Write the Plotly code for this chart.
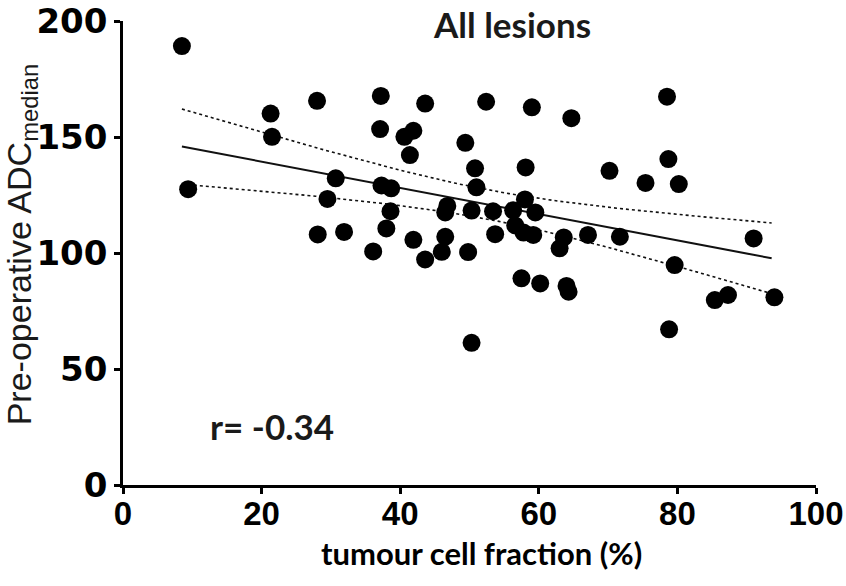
import numpy as np
import plotly.graph_objects as go

# Data
tumour_fraction = [8.5, 9.4, 21.3, 21.5, 28.0, 28.1, 30.7, 29.5, 31.9, 37.2,
                   37.1, 37.3, 38.7, 38.6, 38.0, 36.1, 40.6, 41.9, 41.4, 43.6,
                   41.9, 43.6, 46.0, 46.5, 46.8, 46.5, 49.4, 50.8, 51.0, 50.3,
                   49.8, 50.3, 52.4, 59.0, 64.7, 78.5, 58.1, 70.2, 78.7, 75.4,
                   80.2, 58.0, 53.4, 56.3, 59.5, 56.6, 57.8, 59.2, 53.7, 63.6,
                   63.0, 67.1, 71.7, 91.0, 79.6, 57.5, 60.2, 64.0, 64.3, 78.8,
                   85.4, 87.3, 94.0]
adc_median = [189.2, 127.5, 160.1, 150.1, 165.6, 108.0, 132.2, 123.3, 109.1, 167.7,
              153.4, 129.1, 127.9, 118.0, 110.6, 100.7, 150.1, 152.7, 142.2, 164.4,
              105.7, 97.2, 100.5, 107.0, 120.3, 117.5, 147.5, 136.5, 128.3, 118.3,
              100.4, 61.3, 165.2, 162.8, 158.1, 167.4, 136.9, 135.4, 140.5, 130.2,
              129.7, 123.1, 118.0, 118.4, 117.5, 111.9, 108.8, 107.8, 108.1, 106.7,
              102.0, 107.8, 107.0, 106.3, 94.8, 89.1, 86.9, 85.8, 83.3, 67.1,
              79.7, 81.9, 80.9]
# Fitted line
fit_intercept = 150.7
fit_slope = -0.566
x_ticks = [0, 20, 40, 60, 80, 100]
y_ticks = [0, 50, 100, 150, 200]
title_text = "All lesions"
r_text = "r= -0.34"
x_title = "tumour cell fraction (%)"
y_title = "Pre-operative ADC<sub>median</sub>"

# 95% confidence band of the fitted mean
xa = np.array(tumour_fraction)
ya = np.array(adc_median)
n = len(xa)
resid = ya - (fit_slope * xa + fit_intercept)
s = np.sqrt(np.sum(resid ** 2) / (n - 2))
sxx = np.sum((xa - xa.mean()) ** 2)
t_crit = 2.0
xx = np.linspace(xa.min(), xa.max() - 0.4, 120)
yy = fit_slope * xx + fit_intercept
half = t_crit * s * np.sqrt(1 / n + (xx - xa.mean()) ** 2 / sxx)

fig = go.Figure()
fig.add_trace(go.Scatter(x=xx, y=yy + half, mode="lines",
                         line=dict(color="#111", width=1.6, dash="dot"),
                         hoverinfo="skip"))
fig.add_trace(go.Scatter(x=xx, y=yy - half, mode="lines",
                         line=dict(color="#111", width=1.6, dash="dot"),
                         hoverinfo="skip"))
fig.add_trace(go.Scatter(x=xx, y=yy, mode="lines",
                         line=dict(color="#111", width=2),
                         hoverinfo="skip"))
fig.add_trace(go.Scatter(x=tumour_fraction, y=adc_median, mode="markers",
                         marker=dict(color="black", size=18, line=dict(width=0)),
                         cliponaxis=False))

fig.add_annotation(x=12.3, y=25.3, xref="x", yref="y", text=r_text, showarrow=False,
                   xanchor="left", yanchor="middle",
                   font=dict(family="Lato", size=35, color="#1a1a1a", weight="bold"))
fig.add_annotation(x=56.2, y=198.5, xref="x", yref="y", text=title_text,
                   showarrow=False, xanchor="center", yanchor="middle",
                   font=dict(family="Lato", size=35, color="#1a1a1a", weight="bold"))
fig.add_annotation(x=-0.147, y=0.519, xref="paper", yref="paper", text=y_title,
                   showarrow=False, xanchor="center", yanchor="middle", textangle=-90,
                   font=dict(family="Liberation Sans", size=34, color="#1a1a1a"))
fig.add_annotation(x=0.517, y=-0.1466, xref="paper", yref="paper", text=x_title,
                   showarrow=False, xanchor="center", yanchor="middle",
                   font=dict(family="Lato", size=31, color="black", weight="bold"))

fig.update_layout(
    width=846, height=586,
    margin=dict(l=123, r=30, t=21, b=101),
    plot_bgcolor="white", paper_bgcolor="white",
    showlegend=False,
    xaxis=dict(range=[0, 100], tickvals=x_ticks, ticktext=[str(v) for v in x_ticks],
               showline=True, linecolor="black", linewidth=2.5, mirror=False,
               ticks="outside", ticklen=6, tickwidth=2.5, tickcolor="black",
               showgrid=False, zeroline=False, automargin=False,
               ticklabelstandoff=-8,
               tickfont=dict(family="Liberation Sans", size=33,
                             color="black", weight="bold")),
    yaxis=dict(range=[0, 200], tickvals=y_ticks, ticktext=[str(v) for v in y_ticks],
               showline=True, linecolor="black", linewidth=2.5, mirror=False,
               ticks="outside", ticklen=6, tickwidth=2.5, tickcolor="black",
               showgrid=False, zeroline=False, automargin=False,
               tickfont=dict(family="DejaVu Sans", size=34, color="black", weight="bold")),
)

fig.write_html("out.html")
